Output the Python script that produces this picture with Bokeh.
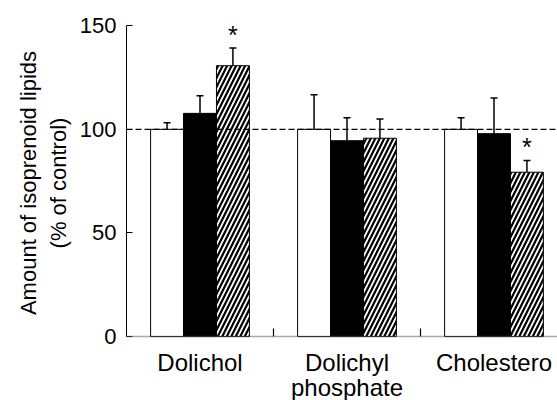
from bokeh.plotting import figure
from bokeh.layouts import column
from bokeh.models import Range1d, FixedTicker, Span, Whisker, TeeHead, ColumnDataSource
from bokeh.core.properties import value
from bokeh.embed import file_html
from bokeh.resources import INLINE

# ---- data ----
categories = ["Dolichol", "Dolichyl\nphosphate", "Cholestero"]
control = [100.0, 100.0, 100.0]
control_err = [3.2, 16.7, 5.6]
treat_black = [107.7, 94.5, 97.9]
black_err = [8.5, 11.1, 17.2]
treat_hatched = [130.7, 95.7, 79.3]
hatched_err = [8.6, 9.3, 5.7]
significant = [True, False, True]   # asterisks on hatched bars
y_ticks = [0, 50, 100, 150]

FONT = "Liberation Sans"
bw = 0.224
offsets = [-bw, 0.0, bw]
n = len(categories)
centers = [i + 0.5 for i in range(n)]
boundaries = list(range(1, n))

xr = Range1d(0, 2.932)
p = figure(width=557, height=348, output_backend="svg", toolbar_location=None,
           x_range=xr, y_range=Range1d(-4.8, 153),
           min_border_left=126, min_border_right=0, min_border_top=19, min_border_bottom=2)
p.outline_line_color = None
p.grid.visible = False
p.xaxis.visible = False
p.background_fill_color = "white"

series = [
    (control, control_err, dict(fill_color="white", line_color="black")),
    (treat_black, black_err, dict(fill_color="black", line_color="black")),
    (treat_hatched, hatched_err, dict(fill_color="white", line_color="black",
                                      hatch_pattern="/", hatch_color="black",
                                      hatch_scale=9, hatch_weight=2.2)),
]
for (vals, errs, style), off in zip(series, offsets):
    xs = [c + off for c in centers]
    src = ColumnDataSource(dict(x=xs, top=vals, upper=[v + e for v, e in zip(vals, errs)]))
    p.vbar(x="x", top="top", bottom=0, width=bw, source=src, line_width=1, **style)
    w = Whisker(base="x", lower="top", upper="upper", source=src, dimension="height",
                line_color="black", line_width=1.5,
                upper_head=TeeHead(size=7, line_color="black", line_width=1.5), lower_head=None)
    p.add_layout(w)

# asterisks
ax_x = [c + offsets[2] for c, s in zip(centers, significant) if s]
ax_y = [v + e + 6.3 for v, e, s in zip(treat_hatched, hatched_err, significant) if s]
p.text(x=ax_x, y=ax_y, text=["*"] * len(ax_x), text_font=value(FONT),
       text_font_size="25px", text_align="center", text_baseline="alphabetic", text_color="black")

# dashed reference line at 100%
p.add_layout(Span(location=100, dimension="width", line_color="black",
                  line_dash="6 3", line_width=1.2))

# x baseline (dotted) and group separator ticks
p.add_layout(Span(location=0, dimension="width", line_color="#555555",
                  line_dash="1 1", line_width=1.5))
p.segment(x0=boundaries, x1=boundaries, y0=[0] * len(boundaries), y1=[3.9] * len(boundaries),
          line_color="black", line_width=1.2)

# y axis
ya = p.yaxis[0]
ya.ticker = FixedTicker(ticks=y_ticks)
ya.bounds = (0, 150)
ya.major_tick_in = 6
ya.major_tick_out = 0
ya.minor_tick_line_color = None
ya.axis_line_color = "black"
ya.major_tick_line_color = "black"
ya.major_label_text_font = FONT
ya.major_label_text_font_size = "22px"
ya.major_label_text_color = "black"
ya.major_label_standoff = 10
ya.axis_label = "Amount of isoprenoid lipids\n(% of control)"
ya.axis_label_text_font = FONT
ya.axis_label_text_font_size = "22px"
ya.axis_label_text_font_style = "normal"
ya.axis_label_text_color = "black"
ya.axis_label_standoff = 6

# category names in a strip below, sharing the x range
p2 = figure(width=557, height=52, output_backend="svg", toolbar_location=None,
            x_range=xr, y_range=Range1d(0, 1),
            min_border_left=126, min_border_right=0, min_border_top=0, min_border_bottom=0)
p2.outline_line_color = None
p2.grid.visible = False
p2.axis.visible = False
lx, ly, lt, lo = [], [], [], []
for c, lab in zip(centers, categories):
    for k, line in enumerate(lab.split("\n")):
        lx.append(c); ly.append(1); lt.append(line); lo.append(0 + 25 * k)
p2.text(x=lx, y=ly, text=lt, y_offset=lo, text_font=value(FONT), text_font_size="24px",
        text_color="black", text_align="center", text_baseline="top")

layout = column(p, p2, spacing=0)
open("out.html", "w").write(file_html(layout, INLINE))
